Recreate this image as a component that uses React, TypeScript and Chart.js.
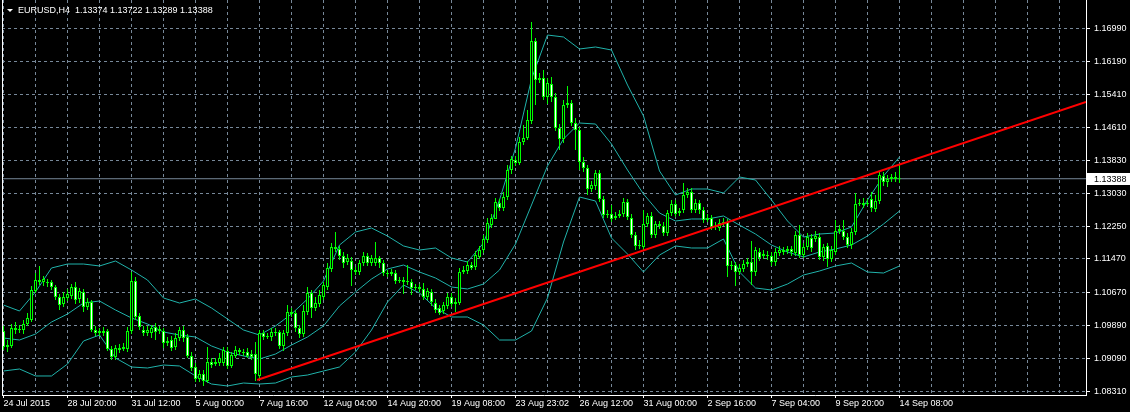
import { useEffect, useRef } from 'react';
import { Chart, registerables } from 'chart.js';

Chart.register(...registerables);

const W = 1130;
const H = 412;

const TITLE = 'EURUSD,H4  1.13374 1.13722 1.13289 1.13388';
const CURRENT_PRICE = 1.13388;

const xLabels: string[] = [
  '24 Jul 2015', '28 Jul 20:00', '31 Jul 12:00', '5 Aug 00:00', '7 Aug 16:00',
  '12 Aug 04:00', '14 Aug 20:00', '19 Aug 08:00', '23 Aug 23:02', '26 Aug 12:00',
  '31 Aug 00:00', '2 Sep 16:00', '7 Sep 04:00', '9 Sep 20:00', '14 Sep 08:00',
];
const LABEL_STEP = 16; // bars between date labels
const GRID_STEP = 8; // bars between vertical grid lines

const yTickValues: number[] = [
  1.1699, 1.1619, 1.1541, 1.1461, 1.1383, 1.1303, 1.1225, 1.1147, 1.1067, 1.0989, 1.0909, 1.0831,
];

const openP: number[] = [
  1.09749, 1.09367, 1.09391, 1.09821, 1.09773, 1.09773, 1.09916, 1.10012, 1.10705, 1.10968,
  1.1092, 1.10896, 1.1092, 1.10801, 1.10562, 1.10394, 1.10538, 1.10586, 1.10801, 1.10514,
  1.10681, 1.10323, 1.10442, 1.09773, 1.09701, 1.09749, 1.09749, 1.09319, 1.09128, 1.09343,
  1.09319, 1.09319, 1.09749, 1.10944, 1.10108, 1.09773, 1.09701, 1.09701, 1.09845, 1.09749,
  1.09749, 1.09462, 1.09534, 1.09367, 1.09582, 1.09773, 1.09606, 1.09152, 1.08889, 1.08602,
  1.08721, 1.08554, 1.09008, 1.0896, 1.08984, 1.08984, 1.09271, 1.08913, 1.09152, 1.09295,
  1.09247, 1.09247, 1.09199, 1.09199, 1.08674, 1.09701, 1.09606, 1.09606, 1.09725, 1.09725,
  1.09391, 1.09701, 1.10203, 1.10179, 1.09821, 1.09677, 1.10203, 1.10657, 1.10299, 1.10394,
  1.10562, 1.10801, 1.11231, 1.11757, 1.11709, 1.11542, 1.11398, 1.11422, 1.11207, 1.11159,
  1.11374, 1.11542, 1.11374, 1.11374, 1.11494, 1.11374, 1.11135, 1.11111, 1.11135, 1.10944,
  1.10968, 1.1092, 1.1092, 1.10777, 1.10801, 1.10753, 1.10562, 1.10681, 1.10418, 1.10299,
  1.10227, 1.10347, 1.10562, 1.10394, 1.10418, 1.11159, 1.11183, 1.11326, 1.11279, 1.11518,
  1.11685, 1.11924, 1.1228, 1.12426, 1.12808, 1.12689, 1.12952, 1.13597, 1.13836, 1.13764,
  1.14266, 1.14362, 1.14768, 1.1668, 1.15748, 1.15796, 1.15342, 1.15652, 1.15342, 1.14601,
  1.14338, 1.1515, 1.15198, 1.1472, 1.14553, 1.13788, 1.13645, 1.13143, 1.13215, 1.13525,
  1.12904, 1.12521, 1.12545, 1.1245, 1.12498, 1.12545, 1.12832, 1.1245, 1.12043, 1.11781,
  1.11757, 1.12306, 1.12498, 1.12043, 1.12306, 1.12259, 1.12091, 1.12569, 1.12784, 1.12569,
  1.12641, 1.12999, 1.13071, 1.12641, 1.12808, 1.12641, 1.12402, 1.1245, 1.12235, 1.12211,
  1.1233, 1.12354, 1.11303, 1.11326, 1.11159, 1.11231, 1.1135, 1.11398, 1.11159, 1.11637,
  1.11542, 1.11565, 1.11542, 1.11398, 1.11613, 1.11685, 1.11661, 1.11709, 1.11613, 1.12043,
  1.11565, 1.11757, 1.11972, 1.11948, 1.11995, 1.11518, 1.11781, 1.1147, 1.11637, 1.12139,
  1.12139, 1.11995, 1.11804, 1.12115, 1.12784, 1.12808, 1.12784, 1.12904, 1.12665, 1.12856,
  1.13453, 1.1331, 1.13382, 1.1343, 1.13374,
];

const highP: number[] = [
  1.09869, 1.09534, 1.09916, 1.09964, 1.09892, 1.10012, 1.10179, 1.10825, 1.11135, 1.11303,
  1.11064, 1.10992, 1.10968, 1.10848, 1.10633, 1.10681, 1.10753, 1.10872, 1.1092, 1.10777,
  1.10753, 1.10538, 1.1049, 1.09869, 1.09821, 1.09845, 1.09797, 1.09391, 1.09414, 1.09438,
  1.09462, 1.09845, 1.11159, 1.1104, 1.10179, 1.09869, 1.09869, 1.09892, 1.0994, 1.09869,
  1.09821, 1.09606, 1.0963, 1.09701, 1.09845, 1.09869, 1.09677, 1.09247, 1.08984, 1.08817,
  1.08817, 1.09367, 1.09104, 1.09104, 1.09223, 1.09367, 1.09367, 1.09247, 1.09391, 1.09343,
  1.09319, 1.09343, 1.09295, 1.09486, 1.09773, 1.09773, 1.09701, 1.09821, 1.09821, 1.09773,
  1.09773, 1.1037, 1.10299, 1.10251, 1.09892, 1.1037, 1.10801, 1.10729, 1.10562, 1.10729,
  1.1092, 1.11374, 1.11852, 1.12115, 1.11781, 1.11637, 1.11589, 1.11518, 1.11279, 1.11446,
  1.11637, 1.11613, 1.11565, 1.11876, 1.11542, 1.11446, 1.11207, 1.11231, 1.11207, 1.1104,
  1.1104, 1.11326, 1.10992, 1.10872, 1.10872, 1.10896, 1.10777, 1.10753, 1.10514, 1.1037,
  1.10442, 1.10657, 1.10657, 1.10538, 1.11255, 1.11303, 1.11422, 1.11398, 1.11661, 1.11781,
  1.12043, 1.1245, 1.12545, 1.12928, 1.12904, 1.13071, 1.13716, 1.13932, 1.13932, 1.14386,
  1.14672, 1.15031, 1.17134, 1.16752, 1.15915, 1.15987, 1.15796, 1.1582, 1.15437, 1.14696,
  1.1527, 1.15605, 1.1527, 1.1484, 1.14625, 1.13908, 1.13716, 1.13334, 1.13597, 1.13597,
  1.12976, 1.12641, 1.1276, 1.12593, 1.12641, 1.12928, 1.12904, 1.12545, 1.12115, 1.11924,
  1.12641, 1.12569, 1.12593, 1.12378, 1.12378, 1.12354, 1.12641, 1.1288, 1.1288, 1.12689,
  1.13286, 1.13167, 1.13167, 1.12904, 1.1288, 1.12713, 1.12545, 1.12521, 1.12354, 1.12426,
  1.1245, 1.12426, 1.11422, 1.11398, 1.1135, 1.11446, 1.11494, 1.119, 1.11757, 1.11733,
  1.11685, 1.11661, 1.11637, 1.11733, 1.11781, 1.11757, 1.11781, 1.11781, 1.12139, 1.1228,
  1.11852, 1.12091, 1.12067, 1.12139, 1.12091, 1.11828, 1.11852, 1.11781, 1.12402, 1.1228,
  1.12402, 1.12091, 1.12211, 1.13047, 1.12904, 1.12928, 1.12904, 1.13071, 1.12999, 1.13549,
  1.13549, 1.13477, 1.13501, 1.13549, 1.13722,
];

const lowP: number[] = [
  1.09295, 1.09247, 1.09343, 1.09677, 1.09701, 1.09677, 1.09869, 1.09964, 1.10657, 1.10848,
  1.10825, 1.10801, 1.10729, 1.1049, 1.10251, 1.10323, 1.10466, 1.10514, 1.10394, 1.10418,
  1.10203, 1.10251, 1.09725, 1.0963, 1.0963, 1.0963, 1.09271, 1.09056, 1.09056, 1.09223,
  1.09271, 1.09247, 1.09677, 1.10012, 1.09773, 1.0963, 1.0963, 1.09582, 1.09534, 1.09677,
  1.09343, 1.09391, 1.09271, 1.09295, 1.0951, 1.09486, 1.09104, 1.08793, 1.0853, 1.0853,
  1.08435, 1.08506, 1.08865, 1.08913, 1.08913, 1.08913, 1.08841, 1.08865, 1.09104, 1.09175,
  1.09152, 1.09104, 1.09056, 1.08554, 1.08578, 1.09534, 1.09558, 1.0951, 1.0963, 1.09319,
  1.09271, 1.0963, 1.10084, 1.09725, 1.09582, 1.09606, 1.10131, 1.1006, 1.10227, 1.10323,
  1.1049, 1.10729, 1.11159, 1.11637, 1.11446, 1.11255, 1.11326, 1.10825, 1.11087, 1.11087,
  1.11303, 1.11303, 1.11303, 1.11303, 1.11255, 1.11064, 1.1104, 1.11064, 1.10872, 1.10896,
  1.10633, 1.10848, 1.10609, 1.10729, 1.10681, 1.1049, 1.1049, 1.10347, 1.10179, 1.10131,
  1.10155, 1.10275, 1.10323, 1.10203, 1.1037, 1.11111, 1.11111, 1.11207, 1.11207, 1.1147,
  1.11613, 1.11852, 1.12211, 1.12617, 1.12617, 1.12617, 1.1288, 1.13501, 1.13693, 1.13716,
  1.14194, 1.14314, 1.14696, 1.1515, 1.15676, 1.1527, 1.15174, 1.15222, 1.14529, 1.14075,
  1.14242, 1.15079, 1.14649, 1.14075, 1.13597, 1.13549, 1.12999, 1.13071, 1.13119, 1.12832,
  1.1245, 1.1245, 1.12354, 1.12402, 1.1245, 1.12474, 1.12402, 1.11972, 1.11685, 1.11709,
  1.11685, 1.12235, 1.11972, 1.11972, 1.12187, 1.12019, 1.12019, 1.12498, 1.12474, 1.12498,
  1.12569, 1.12928, 1.12569, 1.12569, 1.12545, 1.1233, 1.12354, 1.12163, 1.12163, 1.12139,
  1.12259, 1.1104, 1.11207, 1.10825, 1.11087, 1.11159, 1.11279, 1.10848, 1.11064, 1.11422,
  1.1147, 1.11446, 1.11303, 1.11303, 1.11542, 1.11565, 1.11589, 1.11542, 1.11542, 1.11494,
  1.11494, 1.11685, 1.11637, 1.11876, 1.11446, 1.11422, 1.11279, 1.11398, 1.11565, 1.12067,
  1.11924, 1.11733, 1.11709, 1.12043, 1.12737, 1.12689, 1.12737, 1.12593, 1.12593, 1.12784,
  1.13215, 1.13191, 1.1331, 1.1331, 1.13289,
];

const closeP: number[] = [
  1.09367, 1.09414, 1.09821, 1.09773, 1.09797, 1.09916, 1.1006, 1.10729, 1.10968, 1.1092,
  1.10992, 1.1092, 1.10801, 1.10562, 1.1037, 1.10562, 1.10633, 1.10801, 1.1049, 1.10705,
  1.10323, 1.10442, 1.09773, 1.09701, 1.09749, 1.09701, 1.09319, 1.09128, 1.09343, 1.09295,
  1.09367, 1.09749, 1.10944, 1.10084, 1.09845, 1.09701, 1.09773, 1.09821, 1.09725, 1.09797,
  1.09462, 1.0951, 1.09343, 1.09582, 1.09773, 1.09582, 1.09152, 1.08865, 1.08602, 1.08721,
  1.08554, 1.09008, 1.08936, 1.09008, 1.09104, 1.09295, 1.08913, 1.09175, 1.09295, 1.09247,
  1.09223, 1.09152, 1.09128, 1.08721, 1.09701, 1.09606, 1.0963, 1.09725, 1.09701, 1.09391,
  1.09701, 1.10203, 1.10155, 1.09821, 1.09677, 1.10227, 1.10657, 1.10299, 1.10418, 1.10609,
  1.10848, 1.11255, 1.11757, 1.11709, 1.11542, 1.11374, 1.11494, 1.11207, 1.11159, 1.11374,
  1.11542, 1.11374, 1.11494, 1.11494, 1.11374, 1.11135, 1.11111, 1.11159, 1.10944, 1.10968,
  1.1092, 1.10944, 1.10777, 1.10801, 1.10753, 1.10562, 1.10705, 1.10442, 1.10251, 1.10179,
  1.1037, 1.10562, 1.10394, 1.10442, 1.11159, 1.11207, 1.11326, 1.11255, 1.11565, 1.11685,
  1.11948, 1.1233, 1.1245, 1.12832, 1.12689, 1.12952, 1.13597, 1.1386, 1.13764, 1.14266,
  1.14362, 1.14792, 1.1668, 1.15748, 1.15796, 1.15342, 1.15676, 1.15342, 1.14601, 1.14338,
  1.1515, 1.15198, 1.1472, 1.14553, 1.13788, 1.13645, 1.13143, 1.13238, 1.13525, 1.12904,
  1.12521, 1.12545, 1.12426, 1.12498, 1.12545, 1.12832, 1.12474, 1.12043, 1.11781, 1.11804,
  1.12306, 1.12498, 1.12043, 1.12306, 1.12259, 1.12091, 1.12569, 1.12784, 1.12545, 1.12617,
  1.12999, 1.13071, 1.12641, 1.12808, 1.12641, 1.12402, 1.1245, 1.12235, 1.12259, 1.1233,
  1.12354, 1.11303, 1.11326, 1.11159, 1.11255, 1.1135, 1.11398, 1.11159, 1.11685, 1.11494,
  1.11589, 1.11542, 1.11398, 1.11637, 1.11685, 1.11637, 1.11709, 1.11637, 1.12043, 1.11565,
  1.11757, 1.11995, 1.11733, 1.12019, 1.11518, 1.11757, 1.1147, 1.11685, 1.12139, 1.12187,
  1.11995, 1.11804, 1.12115, 1.12784, 1.12808, 1.1276, 1.12808, 1.12689, 1.12856, 1.13477,
  1.1331, 1.13382, 1.1343, 1.13382, 1.13388,
];

// Bollinger bands (20, 2), read every BAND_STEP bars
const BAND_STEP = 4;
const bbUpper: number[] = [
  1.1037, 1.10227, 1.10681, 1.11255, 1.1135, 1.1135, 1.11303, 1.11422, 1.11207, 1.10968,
  1.10538, 1.10418, 1.10514, 1.10299, 1.10036, 1.09773, 1.09653, 1.09869, 1.10155, 1.10514,
  1.10944, 1.11804, 1.12115, 1.12211, 1.12019, 1.11781, 1.11685, 1.11733, 1.11494, 1.11398,
  1.11852, 1.1288, 1.14122, 1.15772, 1.16823, 1.16776, 1.16489, 1.16537, 1.16465, 1.15628,
  1.14888, 1.13573, 1.12999, 1.13143, 1.13143, 1.13047, 1.1343, 1.13358, 1.1288, 1.12378,
  1.11995, 1.12067, 1.12091, 1.12235, 1.1288, 1.13453, 1.13908,
];
const bbMiddle: number[] = [
  1.09582, 1.09534, 1.09677, 1.09964, 1.10155, 1.10418, 1.10466, 1.10251, 1.1006, 1.09916,
  1.09725, 1.09653, 1.09606, 1.09391, 1.09247, 1.09152, 1.0908, 1.09199, 1.09414, 1.09606,
  1.09869, 1.10347, 1.10681, 1.10992, 1.11231, 1.11326, 1.11159, 1.11016, 1.10801, 1.10753,
  1.10872, 1.11207, 1.11828, 1.1276, 1.13693, 1.14338, 1.1472, 1.14696, 1.14218, 1.13597,
  1.13023, 1.12569, 1.12378, 1.12426, 1.12426, 1.12498, 1.1228, 1.12067, 1.11804, 1.11637,
  1.11518, 1.11637, 1.11709, 1.11804, 1.12019, 1.12306, 1.12617,
];
const bbLower: number[] = [
  1.08793, 1.08841, 1.08674, 1.08674, 1.0896, 1.0951, 1.09653, 1.09104, 1.08889, 1.08865,
  1.08936, 1.08913, 1.08674, 1.08482, 1.08435, 1.08506, 1.08482, 1.08506, 1.0865, 1.08697,
  1.08793, 1.08889, 1.09247, 1.09773, 1.10442, 1.10848, 1.10657, 1.10299, 1.10084, 1.10084,
  1.09892, 1.09534, 1.09534, 1.09749, 1.10538, 1.11876, 1.12952, 1.12856, 1.11972, 1.11589,
  1.11159, 1.11565, 1.11781, 1.11733, 1.11733, 1.11948, 1.11159, 1.10777, 1.10729, 1.10872,
  1.11087, 1.11183, 1.11303, 1.11374, 1.11159, 1.11135, 1.11303,
];

// Trend line anchor points (bar index, price)
const trendBars: number[] = [63.4, 270.625];
const trendPrices: number[] = [1.08578, 1.15222];

// Axis ranges
const X_MIN = -0.375;
const X_MAX = 270.625;
const Y_MAX = 1.1766;
const Y_MIN = 1.082195;

const GRID_COLOR = '#778899';
const LIME = '#00FF00';
const BAND_COLOR = '#20B2AA';
const FONT = { family: '"Liberation Sans", Arial, sans-serif', size: 9 };

const isLabelTick = (v: number | undefined) =>
  v !== undefined && v % LABEL_STEP === 0 && v / LABEL_STEP < xLabels.length;

const zeroPadding = (s: any) => {
  s.paddingLeft = 0;
  s.paddingRight = 0;
  s.paddingTop = 0;
  s.paddingBottom = 0;
};

const overlayPlugin = {
  id: 'mtOverlay',
  beforeDraw(chart: any) {
    const { ctx } = chart;
    ctx.save();
    ctx.fillStyle = '#000000';
    ctx.fillRect(0, 0, chart.width, chart.height);
    ctx.restore();
  },
  afterDraw(chart: any) {
    const { ctx, chartArea, scales } = chart;
    ctx.save();
    // left frame line
    ctx.strokeStyle = '#FFFFFF';
    ctx.lineWidth = 1;
    ctx.beginPath();
    ctx.moveTo(Math.round(chartArea.left) + 0.5, chartArea.top);
    ctx.lineTo(Math.round(chartArea.left) + 0.5, chartArea.bottom);
    ctx.stroke();
    // current price label
    const py = Math.round(scales.y.getPixelForValue(CURRENT_PRICE));
    ctx.fillStyle = '#FFFFFF';
    ctx.fillRect(chartArea.right + 1, py - 6, chart.width - chartArea.right - 1, 12);
    ctx.fillStyle = '#000000';
    ctx.font = `${FONT.size}px ${FONT.family}`;
    ctx.textBaseline = 'middle';
    ctx.textAlign = 'left';
    ctx.fillText(CURRENT_PRICE.toFixed(5), chartArea.right + 8, py + 0.5);
    // title
    ctx.fillStyle = '#FFFFFF';
    ctx.beginPath();
    ctx.moveTo(7, 9);
    ctx.lineTo(13, 9);
    ctx.lineTo(10, 12);
    ctx.closePath();
    ctx.fill();
    ctx.fillText(TITLE, 18, 11);
    ctx.restore();
  },
};

export default function App() {
  const ref = useRef<HTMLCanvasElement>(null);

  useEffect(() => {
    const canvas = ref.current;
    if (!canvas) return;

    const bodies = openP.map((o, i) => ({ x: i, y: [o, closeP[i]] }));
    const wicks = highP.map((h, i) => ({ x: i, y: [lowP[i], h] }));
    const bodyColors = openP.map((o, i) => (closeP[i] > o ? '#000000' : '#FFFFFF'));
    const band = (arr: number[]) => arr.map((v, k) => ({ x: k * BAND_STEP, y: v }));
    const gridBars: number[] = [];
    for (let v = 0; v <= X_MAX; v += GRID_STEP) gridBars.push(v);

    const lineBase = {
      type: 'line' as const,
      pointRadius: 0,
      tension: 0,
      fill: false,
    };

    const chart = new Chart(canvas, {
      type: 'bar',
      data: {
        datasets: [
          {
            ...lineBase,
            label: 'Trend',
            data: trendBars.map((b, i) => ({ x: b, y: trendPrices[i] })),
            borderColor: '#FF0000',
            borderWidth: 2,
            order: 0,
          } as any,
          {
            type: 'bar',
            label: 'Body',
            data: bodies as any,
            backgroundColor: bodyColors,
            borderColor: LIME,
            borderWidth: 1,
            borderSkipped: false,
            barThickness: 3,
            grouped: false,
            minBarLength: 1,
            inflateAmount: 0,
            order: 1,
          } as any,
          {
            type: 'bar',
            label: 'Wick',
            data: wicks as any,
            backgroundColor: LIME,
            borderWidth: 0,
            barThickness: 1,
            grouped: false,
            inflateAmount: 0,
            order: 2,
          } as any,
          { ...lineBase, label: 'BB upper', data: band(bbUpper), borderColor: BAND_COLOR, borderWidth: 1, order: 3 } as any,
          { ...lineBase, label: 'BB middle', data: band(bbMiddle), borderColor: BAND_COLOR, borderWidth: 1, order: 3 } as any,
          { ...lineBase, label: 'BB lower', data: band(bbLower), borderColor: BAND_COLOR, borderWidth: 1, order: 3 } as any,
          {
            ...lineBase,
            label: 'Bid',
            data: [
              { x: X_MIN, y: CURRENT_PRICE },
              { x: X_MAX, y: CURRENT_PRICE },
            ],
            borderColor: GRID_COLOR,
            borderWidth: 1,
            order: 4,
          } as any,
        ],
      },
      options: {
        responsive: false,
        animation: false,
        devicePixelRatio: 1,
        events: [],
        layout: { padding: { left: 2, top: 0, right: 0, bottom: 0 } },
        plugins: {
          legend: { display: false },
          tooltip: { enabled: false },
          title: { display: false },
        },
        scales: {
          x: {
            type: 'linear',
            min: X_MIN,
            max: X_MAX,
            offset: false,
            afterBuildTicks: (s: any) => {
              s.ticks = gridBars.map((v) => ({ value: v }));
            },
            afterFit: (s: any) => {
              s.height = 17;
              zeroPadding(s);
            },
            grid: {
              color: GRID_COLOR,
              lineWidth: 1,
              offset: false,
              drawTicks: true,
              tickLength: 3,
              tickBorderDash: [],
              tickColor: (c: any) => (isLabelTick(c.tick ? c.tick.value : undefined) ? '#FFFFFF' : 'rgba(0,0,0,0)'),
            },
            border: { display: true, color: '#FFFFFF', width: 1, dash: [3, 3] },
            ticks: {
              autoSkip: false,
              maxRotation: 0,
              minRotation: 0,
              align: 'start',
              padding: 0,
              color: '#FFFFFF',
              font: FONT,
              callback: (v: any) => (isLabelTick(Number(v)) ? xLabels[Number(v) / LABEL_STEP] : ''),
            },
          },
          y: {
            type: 'linear',
            position: 'right',
            min: Y_MIN,
            max: Y_MAX,
            afterBuildTicks: (s: any) => {
              s.ticks = yTickValues.map((v) => ({ value: v }));
            },
            afterFit: (s: any) => {
              s.width = 44;
              zeroPadding(s);
            },
            grid: {
              color: GRID_COLOR,
              lineWidth: 1,
              tickLength: 4,
              tickBorderDash: [],
              tickColor: '#FFFFFF',
            },
            border: { display: true, color: '#FFFFFF', width: 1, dash: [3, 3] },
            ticks: {
              autoSkip: false,
              padding: 4,
              color: '#FFFFFF',
              font: FONT,
              callback: (v: any) => Number(v).toFixed(5),
            },
          },
        },
      } as any,
      plugins: [overlayPlugin],
    });

    return () => chart.destroy();
  }, []);

  return (
    <div style={{ position: 'fixed', left: 0, top: 0, width: W, height: H, background: '#000' }}>
      <canvas ref={ref} width={W} height={H} style={{ display: 'block', width: W, height: H }} />
    </div>
  );
}
